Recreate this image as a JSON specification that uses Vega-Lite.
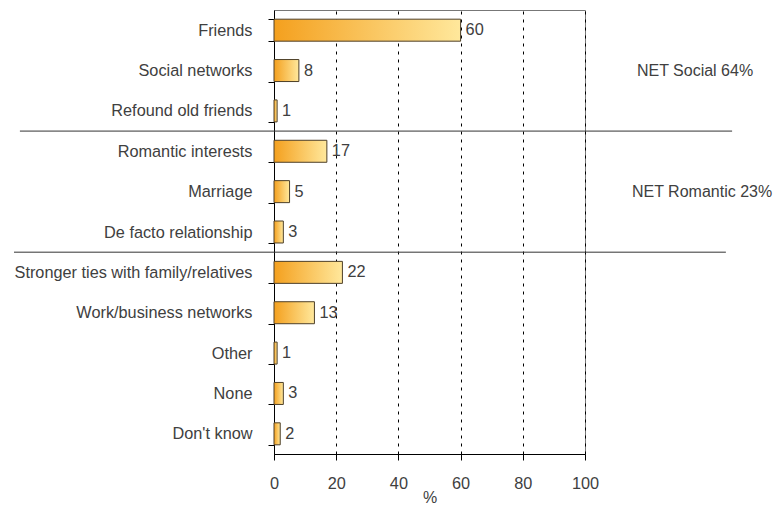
{
  "$schema": "https://vega.github.io/schema/vega-lite/v6.json",
  "autosize": "none",
  "width": 311,
  "height": 444,
  "padding": {"left": 274, "top": 10, "right": 191, "bottom": 52},
  "background": "white",
  "config": {
    "font": "Liberation Sans",
    "view": {"stroke": "#777", "strokeWidth": 1},
    "axis": {"labelFont": "Liberation Sans", "labelFontSize": 16.3, "labelColor": "#404040", "titleFont": "Liberation Sans", "titleFontSize": 16, "titleFontWeight": "normal", "titleColor": "#404040", "domainColor": "#000", "tickColor": "#000"}
  },
  "datasets": {
    "bars": [
      {"item": "Friends", "pct": 60},
      {"item": "Social networks", "pct": 8},
      {"item": "Refound old friends", "pct": 1},
      {"item": "Romantic interests", "pct": 17},
      {"item": "Marriage", "pct": 5},
      {"item": "De facto relationship", "pct": 3},
      {"item": "Stronger ties with family/relatives", "pct": 22},
      {"item": "Work/business networks", "pct": 13},
      {"item": "Other", "pct": 1},
      {"item": "None", "pct": 3},
      {"item": "Don't know", "pct": 2}
    ],
    "nets": [
      {"item": "Social networks", "x": 116.7, "label": "NET Social 64%"},
      {"item": "Marriage", "x": 115.1, "label": "NET Romantic 23%"}
    ],
    "seps": [
      {"pos": 3, "x1": -81.7, "x2": 147.3},
      {"pos": 6, "x1": -83.6, "x2": 145.3}
    ]
  },
  "layer": [
    {
      "layer": [
        {
          "data": {"name": "bars"},
          "mark": {
            "type": "bar",
            "fill": {"gradient": "linear", "x1": 0, "x2": 1, "y1": 0, "y2": 0, "stops": [{"offset": 0, "color": "#F4A01E"}, {"offset": 1, "color": "#FFE89C"}]},
            "stroke": "#4d3f28",
            "strokeWidth": 1
          },
          "encoding": {
            "y": {
              "field": "item", "type": "nominal", "sort": null,
              "scale": {"paddingInner": 0.455, "paddingOuter": 0.2275},
              "axis": {"title": null, "tickBand": "extent", "tickSize": 6, "labelPadding": 16, "domainColor": "#000", "labelLimit": 300}
            },
            "x": {
              "field": "pct", "type": "quantitative",
              "scale": {"domain": [0, 100], "nice": false},
              "axis": {"title": "%", "values": [0, 20, 40, 60, 80, 100], "labelFlush": false, "tickSize": 6, "labelPadding": 15, "titlePadding": -2, "grid": true, "gridColor": "#000", "gridDash": [3, 5], "gridWidth": 1, "gridOpacity": 1}
            }
          }
        },
        {
          "data": {"name": "bars"},
          "mark": {"type": "text", "align": "left", "baseline": "middle", "dx": 5, "fontSize": 16.3, "color": "#404040"},
          "encoding": {
            "y": {"field": "item", "type": "nominal", "sort": null},
            "x": {"field": "pct", "type": "quantitative"},
            "text": {"field": "pct", "type": "quantitative"}
          }
        },
        {
          "data": {"name": "nets"},
          "mark": {"type": "text", "align": "left", "baseline": "middle", "fontSize": 16, "color": "#404040"},
          "encoding": {
            "y": {"field": "item", "type": "nominal", "sort": null},
            "x": {"field": "x", "type": "quantitative"},
            "text": {"field": "label"}
          }
        }
      ]
    },
    {
      "data": {"name": "seps"},
      "mark": {"type": "rule", "color": "#333", "strokeWidth": 1},
      "encoding": {
        "y": {"field": "pos", "type": "quantitative", "scale": {"domain": [0, 11], "reverse": true, "nice": false}, "axis": null},
        "x": {"field": "x1", "type": "quantitative"},
        "x2": {"field": "x2"}
      }
    }
  ],
  "resolve": {"scale": {"y": "independent"}}
}
